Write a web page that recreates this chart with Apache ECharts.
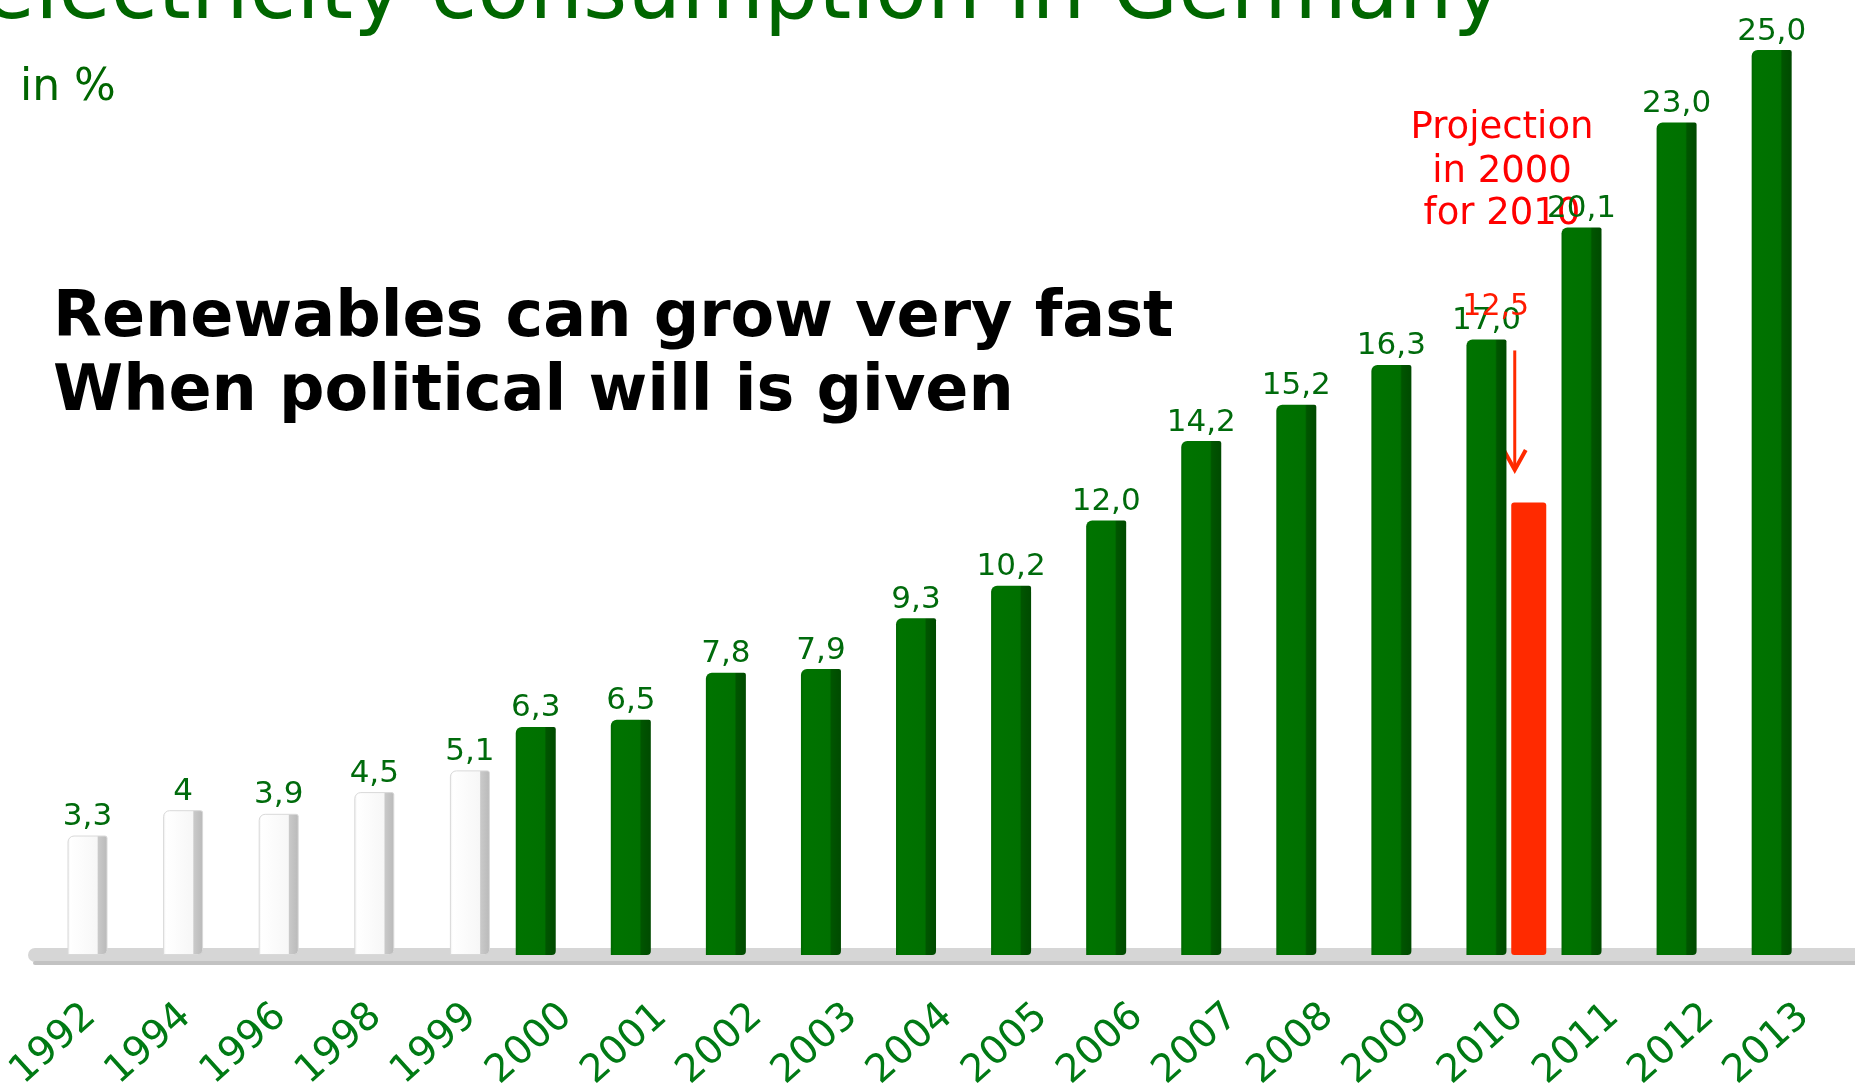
<!DOCTYPE html>
<html><head><meta charset="utf-8">
<script src="https://cdn.jsdelivr.net/npm/echarts@6/dist/echarts.min.js"></script>
<style>html,body{margin:0;padding:0;background:#fff;overflow:hidden}#c{width:1855px;height:1088px}</style>
</head><body><div id="c"></div>
<script>
// ---- data ----
const years = ['1992','1994','1996','1998','1999','2000','2001','2002','2003','2004','2005','2006','2007','2008','2009','2010','2011','2012','2013'];
const shares = [3.3, 4, 3.9, 4.5, 5.1, 6.3, 6.5, 7.8, 7.9, 9.3, 10.2, 12.0, 14.2, 15.2, 16.3, 17.0, 20.1, 23.0, 25.0];
const shareLabels = ['3,3','4','3,9','4,5','5,1','6,3','6,5','7,8','7,9','9,3','10,2','12,0','14,2','15,2','16,3','17,0','20,1','23,0','25,0'];
const firstGreenYear = '2000';
const projectionYear = '2010';
const projectionValue = 12.5;
const projectionLabel = '12,5';
const titleText = 'electricity consumption in Germany';
const unitText = 'in %';
const headline = ['Renewables can grow very fast', 'When political will is given'];
const projectionNote = ['Projection', 'in 2000', 'for 2010'];

// ---- split: early (white) and later (green) years ----
const greenStart = years.indexOf(firstGreenYear);
const earlyYears = years.slice(0, greenStart);
const lateYears = years.slice(greenStart);
const earlyShares = shares.slice(0, greenStart);
const lateShares = shares.slice(greenStart);
const earlyLabels = shareLabels.slice(0, greenStart);
const lateLabels = shareLabels.slice(greenStart);

// ---- styles ----
const FONT = 'DejaVu Sans';
const greenFill = new echarts.graphic.LinearGradient(0, 0, 1, 0, [
  {offset: 0, color: '#006600'}, {offset: 0.08, color: '#007300'},
  {offset: 0.72, color: '#007000'}, {offset: 0.76, color: '#005500'}, {offset: 1, color: '#004a00'}
]);
const whiteFill = new echarts.graphic.LinearGradient(0, 0, 1, 0, [
  {offset: 0, color: '#ededed'}, {offset: 0.07, color: '#ffffff'},
  {offset: 0.74, color: '#f7f7f7'}, {offset: 0.77, color: '#c9c9c9'}, {offset: 1, color: '#b9b9b9'}
]);
const hidden = {axisTick: {show: false}, axisLabel: {show: false}, axisLine: {show: false}, splitLine: {show: false}};
const gridBase = {top: 50, bottom: 133, containLabel: false, outerBoundsMode: 'none'};
const valueLabel = {show: true, position: 'top', distance: 3, color: '#006b0c', fontFamily: FONT, fontSize: 31};

const chart = echarts.init(document.getElementById('c'), null, {renderer: 'canvas'});
chart.setOption({
  backgroundColor: '#ffffff',
  animation: false,
  grid: [
    Object.assign({left: 39.7, right: 1337.3}, gridBase),
    Object.assign({left: 488.5, right: 35.5}, gridBase),
    Object.assign({left: 43, right: 3.4}, gridBase),
    Object.assign({left: 35, right: 0}, gridBase)
  ],
  xAxis: [
    Object.assign({type: 'category', data: earlyYears, gridIndex: 0}, hidden),
    Object.assign({type: 'category', data: lateYears, gridIndex: 1}, hidden),
    {
      type: 'category', data: years, gridIndex: 2,
      axisTick: {show: false}, axisLine: {show: false},
      axisLabel: {interval: 0, rotate: 42, margin: 56, color: '#007a14', fontFamily: FONT, fontSize: 39}
    },
    {
      type: 'category', data: years, gridIndex: 3,
      axisTick: {show: false}, axisLabel: {show: false},
      axisLine: {show: true, lineStyle: {color: '#d6d6d6', width: 14}}
    },
    {
      type: 'category', data: years, gridIndex: 3, position: 'bottom', offset: 8,
      axisTick: {show: false}, axisLabel: {show: false},
      axisLine: {show: true, lineStyle: {color: '#c2c2c2', width: 4}}
    }
  ],
  yAxis: [0, 1, 2, 3].map(g => ({type: 'value', gridIndex: g, min: 0, max: 25, show: false})),
  series: [
    {
      type: 'bar', name: 'early', xAxisIndex: 0, yAxisIndex: 0, data: earlyShares, barWidth: 40,
      itemStyle: {color: whiteFill, borderRadius: [6, 2, 4, 0], borderColor: '#d9d9d9', borderWidth: 1},
      label: Object.assign({formatter: p => earlyLabels[p.dataIndex]}, valueLabel)
    },
    {type: 'bar', name: 'spacer', xAxisIndex: 1, yAxisIndex: 1, data: lateYears.map(() => '-'), barWidth: 35, barGap: '12%', silent: true},
    {
      type: 'bar', name: 'share', xAxisIndex: 1, yAxisIndex: 1, data: lateShares, barWidth: 40, barGap: '12%',
      itemStyle: {color: greenFill, borderRadius: [6, 2, 4, 0]},
      label: Object.assign({formatter: p => lateLabels[p.dataIndex]}, valueLabel)
    },
    {
      type: 'bar', name: 'projection', xAxisIndex: 1, yAxisIndex: 1, barWidth: 35, barGap: '12%',
      data: lateYears.map(y => y === projectionYear ? projectionValue : '-'),
      itemStyle: {color: '#ff2a00', borderRadius: 3},
      label: {
        show: true, position: 'top', distance: 3, offset: [-33, -177],
        color: '#ff1a00', fontFamily: FONT, fontSize: 30, formatter: () => projectionLabel
      }
    }
  ]
});

// ---- annotations ----
const arrowStart = chart.convertToPixel({gridIndex: 1}, [projectionYear, 16.7]);
const arrowTip = chart.convertToPixel({gridIndex: 1}, [projectionYear, 13.4]);
const ax = arrowStart[0] + 28;
const graphics = [
  {type: 'text', style: {text: titleText, x: 1503, y: -4, font: '85px "' + FONT + '"', fill: '#006600', textAlign: 'right', textVerticalAlign: 'middle'}},
  {type: 'text', style: {text: unitText, x: 20, y: 89, font: '44px "' + FONT + '"', fill: '#006600', textAlign: 'left', textVerticalAlign: 'middle'}},
  {type: 'text', style: {text: headline[0], x: 53, y: 319, font: 'bold 63.6px "' + FONT + '"', fill: '#000000', textAlign: 'left', textVerticalAlign: 'middle'}},
  {type: 'text', style: {text: headline[1], x: 53, y: 393, font: 'bold 63.6px "' + FONT + '"', fill: '#000000', textAlign: 'left', textVerticalAlign: 'middle'}},
  {type: 'line', shape: {x1: ax, y1: arrowStart[1], x2: ax, y2: arrowTip[1]}, style: {stroke: '#ff2a00', lineWidth: 3}},
  {type: 'polyline', shape: {points: [[ax - 11, arrowTip[1] - 20], [ax, arrowTip[1]], [ax + 11, arrowTip[1] - 20]]}, style: {stroke: '#ff2a00', lineWidth: 4, fill: null}}
];
projectionNote.forEach((t, i) => {
  graphics.push({type: 'text', style: {text: t, x: 1502, y: [128, 172, 214][i], font: '37px "' + FONT + '"', fill: '#ff0000', textAlign: 'center', textVerticalAlign: 'middle'}});
});
chart.setOption({graphic: {elements: graphics}});
</script>
</body></html>
